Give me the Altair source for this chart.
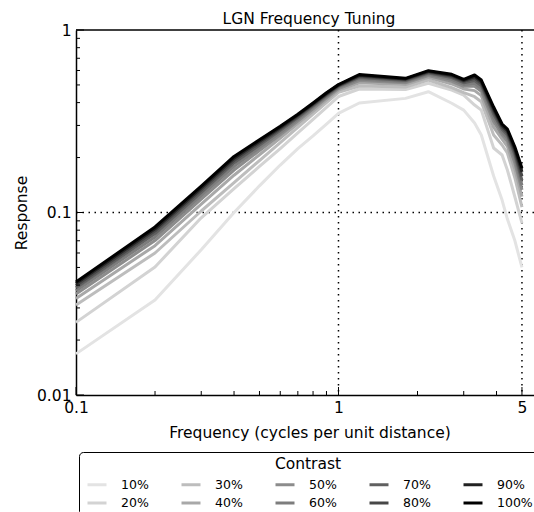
import altair as alt
import pandas as pd

FONT = "DejaVu Sans"
W, H = 458, 365

# Spatial frequencies sampled (cycles per unit distance)
freq = [0.1, 0.2, 0.3, 0.4, 0.5, 0.6, 0.7, 0.8, 0.9, 1.0, 1.2, 1.8,
        2.2, 2.7, 3.0, 3.3, 3.5, 3.9, 4.2, 4.4, 4.7, 5.0]

contrasts = ["10%", "20%", "30%", "40%", "50%", "60%", "70%", "80%", "90%", "100%"]

# Response of each contrast level at the frequencies above
r10 = [0.0168, 0.0332, 0.0625, 0.100, 0.140, 0.182, 0.224, 0.263, 0.305, 0.349, 0.398,
       0.422, 0.459, 0.397, 0.364, 0.309, 0.266, 0.1585, 0.117, 0.092, 0.070, 0.050]
r20 = [0.0250, 0.0503, 0.0935, 0.1352, 0.179, 0.224, 0.273, 0.324, 0.377, 0.432, 0.475,
       0.472, 0.5105, 0.469, 0.440, 0.388, 0.364, 0.2256, 0.2065, 0.171, 0.1216, 0.0874]
r30 = [0.0311, 0.0600, 0.1019, 0.1458, 0.1927, 0.2418, 0.2930, 0.3457, 0.4001, 0.4556, 0.4934,
       0.487, 0.532, 0.4829, 0.4533, 0.4310, 0.4047, 0.266, 0.2344, 0.2118, 0.1545, 0.107]
r40 = [0.0338, 0.0658, 0.1112, 0.1600, 0.2073, 0.2561, 0.3069, 0.3597, 0.4142, 0.4685, 0.5137,
       0.5024, 0.5498, 0.5063, 0.4753, 0.4654, 0.4369, 0.2935, 0.2524, 0.2306, 0.1724, 0.122]
r50 = [0.0358, 0.0702, 0.1185, 0.1709, 0.2185, 0.2668, 0.3172, 0.3701, 0.4245, 0.4777, 0.5289,
       0.5134, 0.5630, 0.5237, 0.4916, 0.4915, 0.4616, 0.315, 0.2662, 0.245, 0.1865, 0.133]
r60 = [0.0373, 0.0735, 0.1238, 0.1790, 0.2266, 0.2746, 0.3246, 0.3776, 0.4320, 0.4845, 0.5397,
       0.5213, 0.5723, 0.5363, 0.5035, 0.5106, 0.4795, 0.3309, 0.2763, 0.2556, 0.197, 0.141]
r70 = [0.0387, 0.0767, 0.1290, 0.1868, 0.2344, 0.2819, 0.3317, 0.3846, 0.4390, 0.4906, 0.5500,
       0.5289, 0.5810, 0.5482, 0.5146, 0.5293, 0.4969, 0.3465, 0.2858, 0.266, 0.2072, 0.150]
r80 = [0.0398, 0.0793, 0.1331, 0.1931, 0.2406, 0.2877, 0.3372, 0.3901, 0.4444, 0.4955, 0.5580,
       0.5347, 0.5879, 0.5576, 0.5234, 0.5440, 0.5106, 0.359, 0.2935, 0.2741, 0.2155, 0.158]
r90 = [0.0408, 0.0814, 0.1365, 0.1983, 0.2457, 0.2925, 0.3417, 0.3946, 0.4488, 0.4994, 0.5646,
       0.5395, 0.5935, 0.5652, 0.5304, 0.5561, 0.5219, 0.3693, 0.2998, 0.2808, 0.2223, 0.167]
r100 = [0.0416, 0.0833, 0.1395, 0.2029, 0.2502, 0.2967, 0.3457, 0.3985, 0.4527, 0.5028, 0.5703,
        0.5435, 0.5984, 0.572, 0.537, 0.5667, 0.532, 0.3785, 0.3054, 0.2868, 0.2285, 0.175]
responses = [r10, r20, r30, r40, r50, r60, r70, r80, r90, r100]

grays = ["#e3e3e3", "#d3d3d3", "#bdbdbd", "#a8a8a8", "#8c8c8c",
         "#7d7d7d", "#606060", "#474747", "#222222", "#000000"]

# Axis ticks and reference lines
x_major = [0.1, 1, 5]
x_minor = [0.2, 0.3, 0.4, 0.5, 0.6, 0.7, 0.8, 0.9, 2, 3, 4]
y_major = [0.01, 0.1, 1]
y_minor = [0.02, 0.03, 0.04, 0.05, 0.06, 0.07, 0.08, 0.09,
           0.2, 0.3, 0.4, 0.5, 0.6, 0.7, 0.8, 0.9]
x_grid = [1, 5]
y_grid = [0.1]

rows = []
for label, vals in zip(contrasts, responses):
    for f, r in zip(freq, vals):
        rows.append({"Frequency": f, "Response": r, "Contrast": label})
df = pd.DataFrame(rows)

xscale = alt.Scale(type="log", domain=[0.1, 5.557], nice=False)
yscale = alt.Scale(type="log", domain=[0.01, 1], nice=False)

axis_common = dict(
    ticks=False, tickSize=0, grid=False, domainColor="black", domainWidth=1.5,
    labelFont=FONT, labelFontSize=15.5, labelColor="black", labelPadding=5,
    labelFlush=False, format="~g", titleFont=FONT, titleFontSize=15.5,
    titleFontWeight="normal", titleColor="black", titleBaseline="alphabetic",
)
x_axis = alt.Axis(values=x_major, title="Frequency (cycles per unit distance)",
                  titleX=233.5, titleY=42.6, **axis_common)
y_axis = alt.Axis(values=y_major, title="Response", titleAngle=270,
                  titleAlign="center", titleX=-50, titleY=H / 2, **axis_common)

grid_x = alt.Chart(pd.DataFrame({"f": x_grid})).mark_rule(
    color="black", strokeWidth=1.5, strokeDash=[1.5, 4.5]
).encode(x=alt.X("f:Q", scale=xscale, axis=x_axis))

grid_y = alt.Chart(pd.DataFrame({"r": y_grid})).mark_rule(
    color="black", strokeWidth=1.5, strokeDash=[1.5, 4.5]
).encode(y=alt.Y("r:Q", scale=yscale, axis=y_axis))

lines = alt.Chart(df).mark_line(strokeWidth=3, strokeJoin="round").encode(
    x=alt.X("Frequency:Q", scale=xscale, axis=x_axis),
    y=alt.Y("Response:Q", scale=yscale, axis=y_axis),
    color=alt.Color(
        "Contrast:N",
        scale=alt.Scale(domain=contrasts, range=grays),
        legend=alt.Legend(
            orient="none", legendX=3, legendY=422, columns=5, gridAlign="all",
            title="Contrast", titleFont=FONT, titleFontSize=15.5, titleFontWeight="normal",
            titleColor="black", titleAnchor="middle", titlePadding=1,
            labelFont=FONT, labelFontSize=12.5, labelColor="black", labelOffset=13,
            symbolType="stroke", symbolSize=361, symbolStrokeWidth=3, symbolOffset=2,
            columnPadding=18, rowPadding=0.5, padding=5,
            strokeColor="black", fillColor="white", cornerRadius=4,
        ),
    ),
)

tick_x_major = alt.Chart(pd.DataFrame({"f": x_major})).mark_rule(color="black", strokeWidth=1).encode(
    x=alt.X("f:Q", scale=xscale, axis=x_axis), y=alt.value(H), y2=alt.value(H - 8))
tick_x_minor = alt.Chart(pd.DataFrame({"f": x_minor})).mark_rule(color="black", strokeWidth=1).encode(
    x=alt.X("f:Q", scale=xscale, axis=x_axis), y=alt.value(H), y2=alt.value(H - 4))
tick_y_major = alt.Chart(pd.DataFrame({"r": y_major})).mark_rule(color="black", strokeWidth=1).encode(
    y=alt.Y("r:Q", scale=yscale, axis=y_axis), x=alt.value(0), x2=alt.value(8))
tick_y_minor = alt.Chart(pd.DataFrame({"r": y_minor})).mark_rule(color="black", strokeWidth=1).encode(
    y=alt.Y("r:Q", scale=yscale, axis=y_axis), x=alt.value(0), x2=alt.value(4))

top_border = alt.Chart(pd.DataFrame({"a": [0]})).mark_rule(color="black", strokeWidth=1.5).encode(
    x=alt.value(0), x2=alt.value(W), y=alt.value(0))

chart = alt.layer(
    grid_x, grid_y, lines, tick_x_major, tick_x_minor, tick_y_major, tick_y_minor, top_border
).properties(
    width=W, height=H,
    title=alt.TitleParams("LGN Frequency Tuning", font=FONT, fontSize=15.5, fontWeight="normal",
                          color="black", anchor="middle", frame="group", dx=4, dy=21.5,
                          offset=5.5, baseline="alphabetic"),
    autosize=alt.AutoSizeParams(type="none"),
    padding={"left": 76, "top": 30, "right": 0, "bottom": 117},
).configure_view(stroke=None)

chart.save("out.html", embed_options={"renderer": "svg", "actions": False})
